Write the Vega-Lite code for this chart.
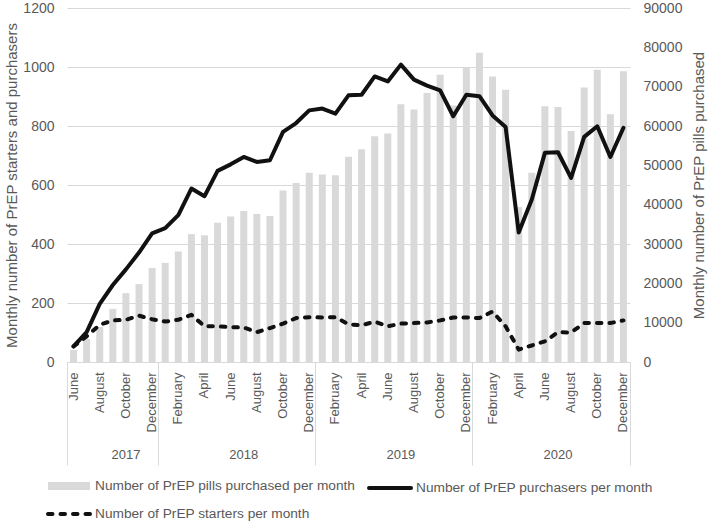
{
  "$schema": "https://vega.github.io/schema/vega-lite/v6.json",
  "width": 563,
  "height": 354,
  "autosize": {"type": "none"},
  "padding": {"left": 67, "top": 8, "right": 78, "bottom": 162},
  "background": "white",
  "config": {
    "font": "Liberation Sans",
    "view": {"stroke": null},
    "axis": {"labelColor": "#595959", "titleColor": "#595959", "titleFontWeight": "normal", "gridColor": "#d9d9d9", "domainColor": "#d9d9d9", "tickColor": "#d9d9d9"}
  },
  "data": {"values": [
    {"ym": "2017-06", "pills": 3050, "purchasers": 53, "starters": 53},
    {"ym": "2017-07", "pills": 5850, "purchasers": 101, "starters": 87},
    {"ym": "2017-08", "pills": 8900, "purchasers": 197, "starters": 126},
    {"ym": "2017-09", "pills": 13500, "purchasers": 261, "starters": 141},
    {"ym": "2017-10", "pills": 17500, "purchasers": 314, "starters": 143},
    {"ym": "2017-11", "pills": 19800, "purchasers": 371, "starters": 157},
    {"ym": "2017-12", "pills": 23900, "purchasers": 436, "starters": 145},
    {"ym": "2018-01", "pills": 25200, "purchasers": 454, "starters": 137},
    {"ym": "2018-02", "pills": 28100, "purchasers": 498, "starters": 143},
    {"ym": "2018-03", "pills": 32500, "purchasers": 588, "starters": 160},
    {"ym": "2018-04", "pills": 32200, "purchasers": 562, "starters": 121},
    {"ym": "2018-05", "pills": 35400, "purchasers": 648, "starters": 121},
    {"ym": "2018-06", "pills": 37000, "purchasers": 670, "starters": 118},
    {"ym": "2018-07", "pills": 38400, "purchasers": 695, "starters": 117},
    {"ym": "2018-08", "pills": 37600, "purchasers": 678, "starters": 101},
    {"ym": "2018-09", "pills": 37100, "purchasers": 684, "starters": 115},
    {"ym": "2018-10", "pills": 43600, "purchasers": 780, "starters": 130},
    {"ym": "2018-11", "pills": 45500, "purchasers": 810, "starters": 149},
    {"ym": "2018-12", "pills": 48100, "purchasers": 853, "starters": 152},
    {"ym": "2019-01", "pills": 47700, "purchasers": 859, "starters": 151},
    {"ym": "2019-02", "pills": 47500, "purchasers": 842, "starters": 152},
    {"ym": "2019-03", "pills": 52200, "purchasers": 904, "starters": 128},
    {"ym": "2019-04", "pills": 54100, "purchasers": 906, "starters": 124},
    {"ym": "2019-05", "pills": 57400, "purchasers": 968, "starters": 137},
    {"ym": "2019-06", "pills": 58100, "purchasers": 951, "starters": 121},
    {"ym": "2019-07", "pills": 65500, "purchasers": 1008, "starters": 130},
    {"ym": "2019-08", "pills": 64200, "purchasers": 957, "starters": 132},
    {"ym": "2019-09", "pills": 68400, "purchasers": 937, "starters": 134},
    {"ym": "2019-10", "pills": 73000, "purchasers": 921, "starters": 141},
    {"ym": "2019-11", "pills": 65200, "purchasers": 833, "starters": 151},
    {"ym": "2019-12", "pills": 75000, "purchasers": 906, "starters": 151},
    {"ym": "2020-01", "pills": 78600, "purchasers": 901, "starters": 149},
    {"ym": "2020-02", "pills": 72600, "purchasers": 836, "starters": 171},
    {"ym": "2020-03", "pills": 69200, "purchasers": 797, "starters": 121},
    {"ym": "2020-04", "pills": 39400, "purchasers": 439, "starters": 42},
    {"ym": "2020-05", "pills": 48100, "purchasers": 551, "starters": 56},
    {"ym": "2020-06", "pills": 65000, "purchasers": 709, "starters": 70},
    {"ym": "2020-07", "pills": 64800, "purchasers": 711, "starters": 101},
    {"ym": "2020-08", "pills": 58700, "purchasers": 624, "starters": 100},
    {"ym": "2020-09", "pills": 69800, "purchasers": 763, "starters": 132},
    {"ym": "2020-10", "pills": 74300, "purchasers": 799, "starters": 132},
    {"ym": "2020-11", "pills": 63000, "purchasers": 695, "starters": 132},
    {"ym": "2020-12", "pills": 73900, "purchasers": 794, "starters": 141}
  ]},
  "layer": [
    {
      "mark": {"type": "bar", "width": {"band": 0.535}},
      "encoding": {
        "x": {
          "field": "ym", "type": "ordinal",
          "scale": {"type": "band", "paddingInner": 0, "paddingOuter": 0},
          "axis": {
            "title": null, "orient": "bottom", "labelAngle": -90, "labelFontSize": 13,
            "labelPadding": 10, "ticks": false, "tickSize": 0, "domain": true, "grid": false,
            "labelOverlap": false,
            "labelExpr": "toNumber(substring(datum.value,5,7)) % 2 === 0 ? ['January','February','March','April','May','June','July','August','September','October','November','December'][toNumber(substring(datum.value,5,7))-1] : ''"
          }
        },
        "y": {
          "field": "pills", "type": "quantitative",
          "scale": {"domain": [0, 90000], "nice": false},
          "axis": {
            "orient": "right", "title": "Monthly number of PrEP pills purchased",
            "values": [0, 10000, 20000, 30000, 40000, 50000, 60000, 70000, 80000, 90000],
            "format": "d", "grid": false, "domain": false, "ticks": false,
            "labelPadding": 13, "labelFontSize": 14, "titleFontSize": 15,
            "titleAngle": -90, "titleX": 68, "titleY": 177, "titleBaseline": "middle", "titleAlign": "center"
          }
        },
        "color": {
          "datum": "Number of PrEP pills purchased per month", "type": "nominal",
          "scale": {
            "domain": ["Number of PrEP pills purchased per month", "Number of PrEP purchasers per month", "Number of PrEP starters per month"],
            "range": ["#d9d9d9", "#111111", "#111111"]
          },
          "legend": {
            "orient": "none", "legendX": -21, "legendY": 471, "title": null,
            "direction": "horizontal", "columns": 2, "symbolSize": 100, "symbolStrokeWidth": 3.5,
            "labelFontSize": 13.7, "labelColor": "#595959", "labelOffset": 35, "labelLimit": 400,
            "columnPadding": 5, "rowPadding": 8, "padding": 0,
            "encode": {
              "symbols": {
                "update": {
                  "shape": {"signal": "datum.value === 'Number of PrEP pills purchased per month' ? 'M-1,-0.8H7.4V0.8H-1Z' : 'M-1,0H7.4'"},
                  "fill": {"signal": "datum.value === 'Number of PrEP pills purchased per month' ? '#d9d9d9' : 'transparent'"},
                  "stroke": {"signal": "datum.value === 'Number of PrEP pills purchased per month' ? 'transparent' : '#111111'"},
                  "strokeWidth": {"value": 4},
                  "strokeDash": {"signal": "datum.value === 'Number of PrEP starters per month' ? [4.5, 8] : [1, 0]"},
                  "strokeCap": {"value": "round"},
                  "opacity": {"value": 1}
                }
              }
            }
          }
        }
      }
    },
    {
      "layer": [
        {
          "mark": {"type": "line", "color": "#111111", "strokeWidth": 4, "strokeJoin": "round", "strokeCap": "round"},
          "encoding": {
            "x": {
              "field": "ym", "type": "ordinal",
              "axis": {
                "title": null, "orient": "bottom", "values": ["2017-10", "2018-07", "2019-07", "2020-07"],
                "bandPosition": 0, "labelExpr": "substring(datum.value,0,4)", "labelAngle": 0,
                "labelFontSize": 13, "labelPadding": 86, "ticks": false, "tickSize": 0, "domain": false, "grid": false
              }
            },
            "y": {
              "field": "purchasers", "type": "quantitative",
              "scale": {"domain": [0, 1200], "nice": false},
              "axis": {
                "orient": "left", "title": "Monthly number of PrEP starters and purchasers",
                "values": [0, 200, 400, 600, 800, 1000, 1200], "format": "d",
                "grid": true, "gridColor": "#d9d9d9", "domain": false, "ticks": false,
                "labelPadding": 13, "labelFontSize": 14, "titleFontSize": 15,
                "titleAngle": -90, "titleX": -56, "titleY": 177, "titleBaseline": "middle", "titleAlign": "center"
              }
            }
          }
        },
        {
          "mark": {"type": "line", "color": "#111111", "strokeWidth": 4, "strokeDash": [4.5, 8], "strokeCap": "round", "strokeJoin": "round"},
          "encoding": {
            "x": {
              "field": "ym", "type": "ordinal",
              "axis": {
                "title": null, "orient": "bottom", "values": ["2017-06", "2018-01", "2019-01", "2020-01"],
                "bandPosition": 0, "labels": false, "ticks": true, "tickSize": 103, "tickColor": "#d9d9d9",
                "domain": false, "grid": false
              }
            },
            "y": {"field": "starters", "type": "quantitative"}
          }
        },
        {
          "mark": {"type": "point", "opacity": 0},
          "encoding": {
            "x": {
              "field": "ym", "type": "ordinal",
              "axis": {
                "title": null, "orient": "bottom", "values": ["2020-12"],
                "bandPosition": 1, "labels": false, "ticks": true, "tickSize": 103, "tickColor": "#d9d9d9",
                "domain": false, "grid": false
              }
            },
            "y": {"field": "starters", "type": "quantitative"}
          }
        }
      ],
      "resolve": {"axis": {"x": "independent"}}
    }
  ],
  "resolve": {"scale": {"y": "independent"}, "axis": {"x": "independent"}}
}
